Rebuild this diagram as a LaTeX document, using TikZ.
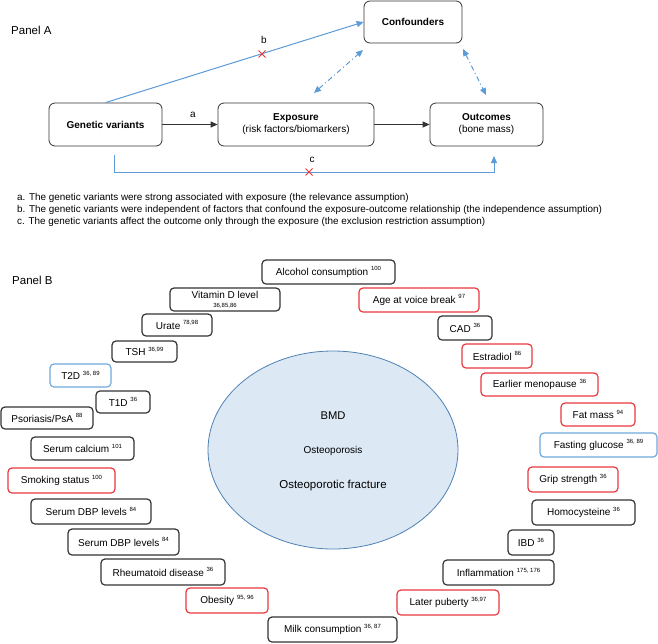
\documentclass[tikz,border=0pt]{standalone}
\usepackage{fontspec}
\setmainfont{Liberation Sans}
\usetikzlibrary{arrows.meta,shapes.geometric}
\definecolor{pblue}{HTML}{5B9BD8}
\definecolor{pred}{HTML}{E8383D}
\definecolor{bblue}{HTML}{6FA8DC}
\definecolor{efill}{HTML}{DCE8F4}
\definecolor{eline}{HTML}{4F81B5}
\definecolor{dk}{HTML}{333333}
\newcommand\refn[1]{\raisebox{0.9ex}{\fontsize{6}{6}\selectfont #1}}
\newcommand\pbox[7]{\node[#6, minimum width={#4-#2}, minimum height={#5-#3}] (#1) at ({(#2+#4)/2},{(#3+#5)/2}) {#7};}
\begin{document}
\begin{tikzpicture}[x=1pt,y=-1pt,
  abox/.style={draw=dk, line width=0.8pt, rounded corners=6pt, inner sep=0pt, align=center, font=\fontsize{10}{12}\selectfont},
  kbox/.style={draw=dk, line width=1.2pt, rounded corners=4pt, inner sep=0pt, align=center, font=\fontsize{10}{12}\selectfont},
  rbox/.style={kbox, draw=pred},
  ubox/.style={kbox, draw=bblue},
  bl/.style={pblue, line width=1pt},
  tip/.style={-{Triangle[length=7pt,width=6pt]}},
  dd/.style={pblue, line width=1pt, dash pattern=on 5pt off 3pt on 1pt off 3pt, {Triangle[length=7pt,width=6pt]}-{Triangle[length=7pt,width=6pt]}},
  lab/.style={font=\fontsize{10}{12}\selectfont, inner sep=0pt},
  xm/.style={pred, line width=0.8pt},
  foot/.style={anchor=west, inner sep=0pt, font=\fontsize{9.9}{11}\selectfont},
  ptitle/.style={anchor=west, inner sep=0pt, font=\fontsize{11.5}{13}\selectfont},
  ]
\useasboundingbox (0,0) rectangle (658,643);
% Panel A
\node[ptitle] (pa) at (11,30) {Panel A};
\pbox{conf}{364}{1}{462}{43}{abox}{\textbf{Confounders}}
\pbox{gen}{49}{103}{162}{146}{abox}{\textbf{Genetic variants}}
\pbox{exp}{218}{103}{374}{146}{abox}{\textbf{Exposure}\\(risk factors/biomarkers)}
\pbox{out}{430}{103}{543}{146}{abox}{\textbf{Outcomes}\\(bone mass)}
\draw[dk, line width=1.2pt, tip] (gen.east) -- (exp.west);
\draw[dk, line width=1.2pt, tip] (exp.east) -- (out.west);
\node[lab] (la) at (193,115) {a};
\draw[bl, tip] (gen.north) -- (conf.west);
\node[lab] (lb) at (264,40) {b};
\draw[xm] (258.5,50.5) -- (265.5,57.5) (258.5,57.5) -- (265.5,50.5);
\coordinate (d1a) at (314,93);
\coordinate (d1b) at (363,50);
\coordinate (d2a) at (463,49);
\coordinate (d2b) at (486,95);
\draw[dd] (d1a) -- (d1b);
\draw[dd] (d2a) -- (d2b);
\coordinate (c0) at (114,155);
\coordinate (c1) at (494,156);
\draw[bl, tip] (c0) -- ++(0,17) -| (c1);
\node[lab] (lc) at (312,160) {c};
\draw[xm] (305.5,168.5) -- (312.5,175.5) (305.5,175.5) -- (312.5,168.5);
\node[foot] (fa) at (17,198) {a. The genetic variants were strong associated with exposure (the relevance assumption)};
\node[foot] (fb) at (17,210) {b. The genetic variants were independent of factors that confound the exposure-outcome relationship (the independence assumption)};
\node[foot] (fc) at (17,222) {c. The genetic variants affect the outcome only through the exposure (the exclusion restriction assumption)};
% Panel B
\node[ptitle] (pbt) at (12,280) {Panel B};
\node[ellipse, draw=eline, fill=efill, line width=0.8pt, minimum width=250, minimum height=198, inner sep=0pt] (ell) at (333,450) {};
\node[inner sep=0pt, font=\fontsize{11.2}{13}\selectfont] (bmd) at (333,416) {BMD};
\node[inner sep=0pt, font=\fontsize{10}{12}\selectfont] (ost) at (333,451) {Osteoporosis};
\node[inner sep=0pt, font=\fontsize{11.5}{13}\selectfont] (frac) at (333,486) {Osteoporotic fracture};
\pbox{alc}{262}{260}{395}{284}{kbox}{Alcohol consumption \refn{100}}
\pbox{vit}{170}{288}{280}{311}{kbox}{Vitamin D level\\[-3pt]{\fontsize{6}{7}\selectfont 36,85,86}}
\pbox{ura}{142}{314}{212}{336}{kbox}{Urate \refn{78,98}}
\pbox{tsh}{112}{341}{177}{362}{kbox}{TSH \refn{36,99}}
\pbox{t2d}{50}{364}{111}{387}{ubox}{T2D \refn{36, 89}}
\pbox{t1d}{96}{391}{150}{413}{kbox}{T1D \refn{36}}
\pbox{pso}{1}{407}{93}{429}{kbox}{Psoriasis/PsA \refn{88}}
\pbox{sca}{31}{437}{134}{460}{kbox}{Serum calcium \refn{101}}
\pbox{smo}{8}{468}{115}{493}{rbox}{Smoking status \refn{100}}
\pbox{db1}{31}{499}{151}{524}{kbox}{Serum DBP levels \refn{84}}
\pbox{db2}{68}{529}{179}{555}{kbox}{Serum DBP levels \refn{84}}
\pbox{rhe}{101}{559}{225}{585}{kbox}{Rheumatoid disease \refn{36}}
\pbox{obe}{186}{588}{268}{613}{rbox}{Obesity \refn{95, 96}}
\pbox{mil}{268}{617}{397}{642}{kbox}{Milk consumption \refn{36, 87}}
\pbox{age}{359}{288}{479}{312}{rbox}{Age at voice break \refn{97}}
\pbox{cad}{438}{316}{492}{340}{kbox}{CAD \refn{36}}
\pbox{est}{462}{344}{532}{368}{rbox}{Estradiol \refn{86}}
\pbox{men}{481}{373}{598}{396}{rbox}{Earlier menopause \refn{36}}
\pbox{fat}{561}{403}{635}{426}{rbox}{Fat mass \refn{94}}
\pbox{fas}{540}{433}{657}{457}{ubox}{Fasting glucose \refn{36, 89}}
\pbox{gri}{528}{467}{618}{492}{rbox}{Grip strength \refn{36}}
\pbox{hom}{532}{500}{635}{525}{kbox}{Homocysteine \refn{36}}
\pbox{ibd}{508}{530}{554}{555}{kbox}{IBD \refn{36}}
\pbox{inf}{443}{560}{554}{585}{kbox}{Inflammation \refn{175, 176}}
\pbox{lat}{397}{590}{499}{615}{rbox}{Later puberty \refn{36,97}}
\end{tikzpicture}
\end{document}
